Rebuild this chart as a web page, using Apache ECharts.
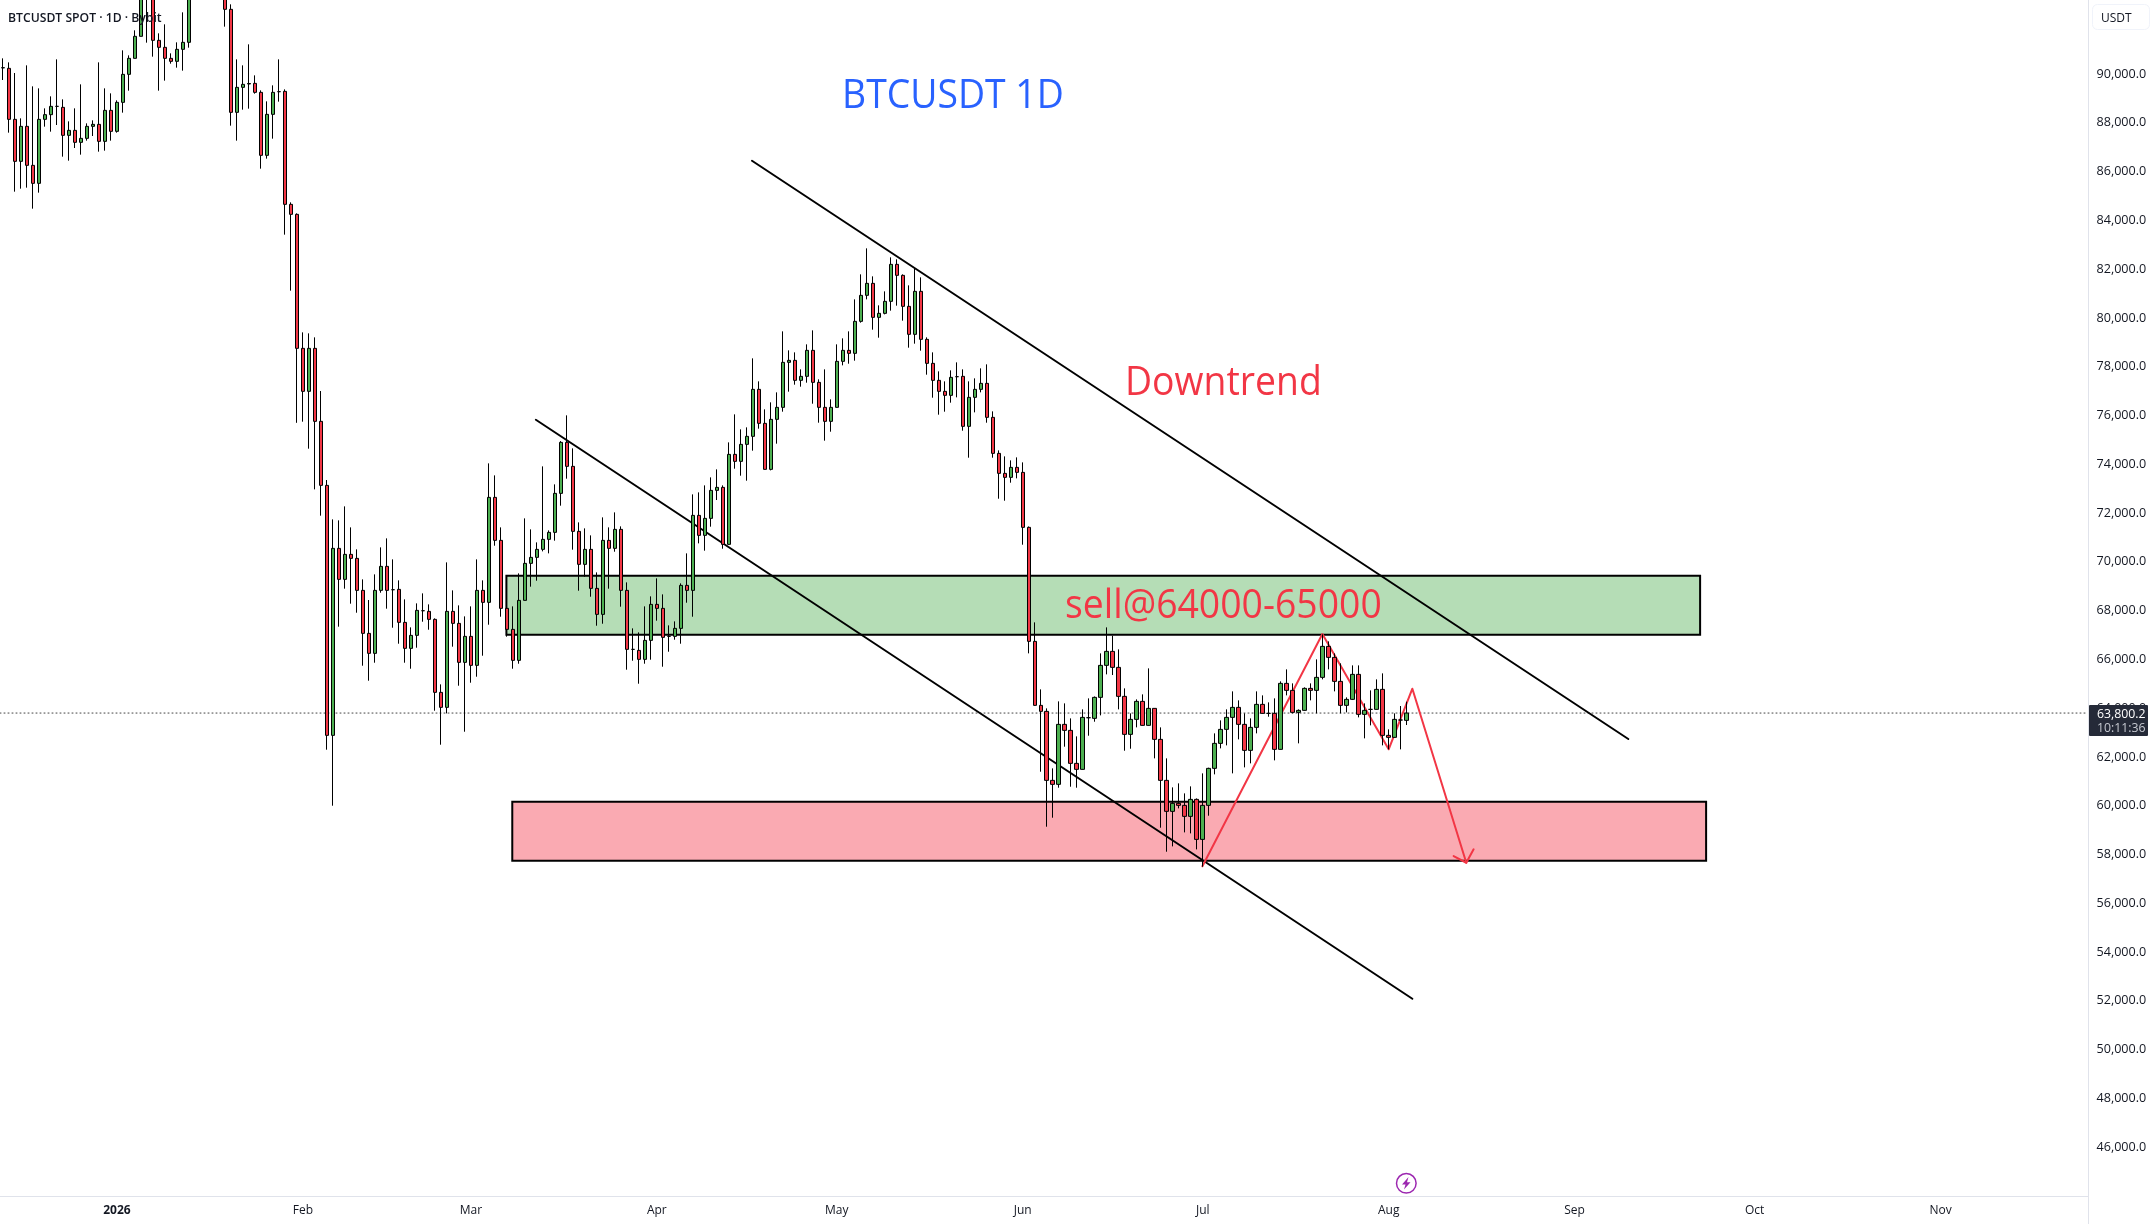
<!DOCTYPE html>
<html><head><meta charset="utf-8">
<style>html,body{margin:0;padding:0;background:#fff}#c{width:2154px;height:1224px}</style>
<script src="https://cdn.jsdelivr.net/npm/echarts@6/dist/echarts.min.js"></script>
</head><body><div id="c"></div>
<script>
var firstDate = '2025-12-13';
var slotCount = 348;
var monthTicks = {'2026-01-01':'2026','2026-02-01':'Feb','2026-03-01':'Mar','2026-04-01':'Apr','2026-05-01':'May','2026-06-01':'Jun','2026-07-01':'Jul','2026-08-01':'Aug','2026-09-01':'Sep','2026-10-01':'Oct','2026-11-01':'Nov'};
var opens = [90250,90232,88141,86419,87854,86255,85517,88141,88333,88674,
88633,87485,87690,87198,87362,87854,87936,87239,88510,87649,
88838,89986,90642,91544,93600,93300,91380,91093,90642,90519,
91011,91298,93800,94500,94100,95000,94400,93900,92651,88428,
89453,89590,89617,89248,86665,88346,89276,89289,84656,84246,
78752,76989,78752,75759,73135,62885,70552,69281,70306,70142,
68830,67067,66247,68830,69814,68857,68871,67518,66452,66985,
67996,67969,67641,64648,64033,67969,67477,65878,66944,65755,
68830,68338,72643,70880,68092,67231,65960,68420,69937,70183,
70511,70921,71208,72807,74898,73914,71249,69896,70511,68912,
67846,70880,70552,71331,68830,66411,66370,66001,66780,68256,
68092,66944,66944,67272,69035,68830,71905,71085,71782,72930,
73053,70716,74406,74119,74816,75144,77071,75677,73791,75841,
76333,78178,78260,77440,77604,78670,77358,76333,75759,76333,
78219,78670,78547,79859,80925,81417,80023,80187,80679,82196,
81745,80474,79326,81089,79121,78137,77440,76989,76825,77591,
77604,75554,76743,77071,77317,75923,74447,73627,73463,73873,
73668,71413,66739,64115,63869,61040,60876,63336,63090,61737,
61491,63609,63582,64443,65755,66329,65673,64484,62926,63541,
64279,63295,63992,62721,61040,59769,60097,60015,59564,60261,
58621,60015,61532,62557,63131,63623,64033,63336,62270,63213,
64156,63787,63787,62311,65017,64730,63828,63910,64812,64730,
65263,66534,66083,65099,64115,64361,65386,63746,63951,63951,
64771,62885,62803,63514,63500];
var closes = [90260,88141,86419,87854,86255,85517,88141,88333,88674,88674,
87485,87690,87198,87362,87854,87936,87239,88510,87649,88838,
89986,90642,91544,93600,93300,91380,91093,90642,90519,91011,
91298,93800,94500,94100,95000,94400,93900,92651,88428,89453,
89576,89610,89248,86665,88346,89248,89276,84656,84246,78752,
76989,78752,75759,73135,62885,70552,69281,70306,70142,68830,
67067,66247,68830,69814,68830,68857,67518,66452,66985,68010,
67996,67641,64648,64033,67969,67477,65878,66944,65755,68830,
68338,72643,70880,68092,67231,65960,68420,69937,70183,70511,
70921,71208,72807,74898,73914,71249,69896,70511,68912,67846,
70880,70552,71331,68830,66411,66411,66001,66780,68256,68092,
66903,66944,67272,69035,68830,71905,71085,71782,72930,73053,
70716,74406,74119,74816,75144,77071,75677,73791,75841,76333,
78178,78260,77440,77604,78670,77358,76333,75759,76333,78219,
78670,78547,79859,80925,81417,80023,80187,80679,82196,81745,
80474,79326,81089,79121,78137,77440,76989,76825,77563,77591,
75554,76743,77071,77317,75923,74447,73627,73463,73873,73668,
71413,66739,64115,63869,61040,60876,63336,63090,61737,61491,
63623,63609,64443,65755,66329,65673,64484,62926,63541,64279,
63295,63992,62721,61040,59769,60097,60015,59564,60261,58621,
60015,61532,62557,63131,63623,64033,63336,62270,63213,64156,
63787,63787,62311,65017,64730,63828,63910,64812,64730,65263,
66534,66083,65099,64115,64361,65386,63746,63910,63951,64771,
62885,62803,63541,63514,63800.2];
var highs = [90642,90478,90041,88182,90355,89494,89412,88592,89084,90601,
88961,88059,88592,89576,87977,88100,90478,89412,89207,88920,
90970,90765,91790,94200,94500,94000,91667,92036,90847,91298,
92528,94500,95000,95200,95600,95700,95100,94300,92856,90601,
90355,91216,89945,89330,88879,89535,90601,89371,84738,84287,
79408,79367,79203,77003,73354,71741,71700,72274,71413,70511,
69281,68434,69486,70593,70962,70101,69240,68461,67313,68297,
68707,68256,67682,64976,69978,68830,68215,67764,68174,70101,
69240,74037,73545,71413,68150,68174,69527,71782,71331,70798,
73914,71290,73176,74950,76005,74652,71618,71372,71085,69568,
71823,71413,72028,71454,69158,67272,67108,68174,68584,69322,
68666,67395,67559,69117,70347,72766,72848,73135,73463,73791,
73135,74898,76046,75431,75513,78342,77399,76251,76538,76948,
79449,78670,78588,77891,78916,79490,77481,77891,76661,78916,
79162,79449,80761,81786,82852,81704,80515,81089,82483,82401,
81786,81335,82032,81663,79203,78588,77809,77399,77850,78178,
77891,77399,77522,77932,78096,76169,74570,74324,74160,74283,
74078,71450,67518,64771,63992,61532,64279,64197,63582,62844,
63951,64402,64480,66247,67313,66971,66411,64812,63787,64361,
64566,65632,64000,63213,61942,60753,60917,60507,60794,60300,
61327,61560,62967,63500,63951,64689,64320,63787,63582,64689,
64525,64238,64402,65099,65591,65017,63950,64853,65017,66001,
67026,66739,66247,65837,64443,65755,65755,64197,64730,65181,
65427,63131,63787,64088,64266];
var lows = [89754,87595,85176,85299,85340,84479,85135,87841,87636,87909,
86611,86447,86966,86693,87267,87458,86816,86857,87267,87595,
88415,89317,90642,91544,91285,90711,89317,89727,90424,90260,
90137,91080,93500,93700,93800,93900,93600,91941,87882,87267,
88538,88579,89194,86119,86529,87349,88866,83413,81117,75700,
75746,74639,72971,71892,62297,60001,67341,68899,68284,67914,
65741,65126,65864,68734,68079,67299,66643,65864,65618,66479,
67545,67217,63897,62502,63787,66521,64921,63035,65044,65290,
66151,67422,70661,67750,66931,65618,65823,68420,68981,69226,
70429,70347,70867,72302,73409,70498,68816,69390,68570,67381,
67463,68899,70415,68161,65577,65946,65003,65823,65987,67587,
65700,66315,66807,66643,68324,67750,70757,70457,71441,72534,
70538,70700,73818,73531,73326,74557,75459,73780,73750,74844,
76156,76976,77263,77181,77345,76483,75704,74967,75335,76320,
78055,78123,78247,79805,80761,79518,79190,80146,80297,80502,
79887,78780,78944,78657,77673,76729,76033,76156,76525,76743,
75376,74269,76128,76948,75704,74269,72588,72506,73244,73422,
70702,66247,64100,61395,59140,59509,60739,62421,60780,60739,
61480,62871,63445,63705,65386,65359,63951,62256,62338,63213,
63280,63280,61942,59099,58115,58334,59892,58908,58867,58211,
57501,59591,61286,62352,62475,61327,62721,61573,61737,62967,
63770,63650,61860,62300,64525,63787,62557,63900,64320,63787,
65181,65591,64689,63787,63828,64334,63623,62762,63295,63940,
62475,62311,62790,62311,63309];

var lastPrice = 63800.2;
var sellZone = [[83.92,69430],[282.92,67011]];
var buyZone  = [[84.9,60164],[283.92,57745]];
var upperTrend = [[124.86,86445],[270.95,62735]];
var lowerTrend = [[88.83,75826],[234.95,52087]];
var zigzag = [[199.95,57516],[219.95,67040],[231,62313],[234.95,64797],[243.94,57663]];
var arrowHead = [[241.83,57938],[243.94,57663],[245.16,58213]];

var dates = [];
(function(){ var t = Date.parse(firstDate+'T00:00:00Z');
  for (var i=0;i<slotCount;i++) dates.push(new Date(t+i*864e5).toISOString().slice(0,10)); })();
var candles = opens.map(function(o,i){ return [o,closes[i],lows[i],highs[i]]; });
var FONT = '"Open Sans","Noto Sans",sans-serif';

function lineSeries(data,color,width,type){
  return {type:'line',xAxisIndex:1,yAxisIndex:0,data:data,symbol:'none',silent:true,z:2,animation:false,
    lineStyle:{color:color,width:width,type:type||'solid',cap:'round',join:'round'}};
}
function zoneSeries(zone,fill){
  return {type:'custom',xAxisIndex:1,yAxisIndex:0,silent:true,z:1,animation:false,
    data:[[zone[0][0],zone[0][1],zone[1][0],zone[1][1]]],
    encode:{x:[0,2],y:[1,3]},
    renderItem:function(p,api){
      var a=api.coord([api.value(0),api.value(1)]), b=api.coord([api.value(2),api.value(3)]);
      return {type:'rect',shape:{x:a[0],y:a[1],width:b[0]-a[0],height:b[1]-a[1]},
        style:{fill:fill,stroke:'#000',lineWidth:2}};
    }};
}
function note(text,x,y,fill){
  return {type:'text',z:30,x:x,y:y,scaleX:0.934,style:{text:text,fill:fill,font:'40px '+FONT,verticalAlign:'middle',align:'left'}};
}
var chart = echarts.init(document.getElementById('c'),null,{renderer:'canvas'});
chart.setOption({
  animation:false,
  backgroundColor:'#ffffff',
  grid:{left:-0.5,top:0,width:2088,height:1196,containLabel:false},
  xAxis:[{type:'category',data:dates,boundaryGap:true,
      axisLine:{show:false},axisTick:{show:false},splitLine:{show:false},
      axisLabel:{show:true,margin:9,color:'#131722',fontFamily:FONT,fontSize:12,
        interval:function(i,v){return !!monthTicks[v];},
        formatter:function(v){var s=monthTicks[v]||''; return s==='2026'?'{b|2026}':s;},
        rich:{b:{fontWeight:700,fontSize:12,color:'#131722',fontFamily:FONT}}}},
    {type:'value',min:-0.5,max:slotCount-0.5,show:false,scale:true}],
  yAxis:[{type:'value',position:'right',min:44000,max:93034,interval:2000,
      axisLine:{show:false},axisTick:{show:false},splitLine:{show:false},
      axisLabel:{margin:9,color:'#131722',fontFamily:FONT,fontSize:12.6,align:'left',
        formatter:function(v){ if(v>90000||v<46000) return '';
          return v.toLocaleString('en-US',{minimumFractionDigits:1,maximumFractionDigits:1});}}}],
  series:[
    zoneSeries(sellZone,'#b5ddb6'),
    zoneSeries(buyZone,'#faaab2'),
    lineSeries([[-0.5,lastPrice],[slotCount-0.5,lastPrice]],'#444',1,[1,3]),
    lineSeries(upperTrend,'#000',2),
    lineSeries(lowerTrend,'#000',2),
    lineSeries(zigzag,'#f23645',2),
    lineSeries(arrowHead,'#f23645',2),
    {type:'candlestick',name:'BTCUSDT',xAxisIndex:0,yAxisIndex:0,data:candles,barWidth:4,z:5,silent:true,animation:false,
      itemStyle:{color:'#4caf50',color0:'#f23645',borderColor:'#000',borderColor0:'#000',borderColorDoji:'#000',borderWidth:1}}
  ],
  graphic:[
    {type:'line',z:20,shape:{x1:2088.5,y1:0,x2:2088.5,y2:1224},style:{stroke:'#e0e3eb',lineWidth:1}},
    {type:'line',z:20,shape:{x1:0,y1:1196.5,x2:2088,y2:1196.5},style:{stroke:'#e0e3eb',lineWidth:1}},
    {type:'text',z:30,left:8,top:13,style:{text:'BTCUSDT SPOT · 1D · Bybit',fill:'#131722',font:'600 12.2px '+FONT}},
    note('BTCUSDT 1D',842,97,'#2962ff'),
    note('Downtrend',1125,384,'#f23645'),
    note('sell@64000-65000',1065,607,'#f23645'),
    {type:'rect',z:30,shape:{x:2092.5,y:4.5,width:57,height:25,r:5},style:{fill:'#fff',stroke:'#f0f3fa',lineWidth:1}},
    {type:'text',z:31,left:2101,top:13,style:{text:'USDT',fill:'#131722',font:'12px '+FONT}},
    {type:'rect',z:30,shape:{x:2089,y:705,width:59,height:31,r:1},style:{fill:'#252a38'}},
    {type:'text',z:31,left:2097,top:708,style:{text:'63,800.2',fill:'#ffffff',font:'12.3px '+FONT}},
    {type:'text',z:31,left:2097,top:722,style:{text:'10:11:36',fill:'#c5c8d0',font:'12.3px '+FONT}},
    {type:'circle',z:30,shape:{cx:1406.3,cy:1183.3,r:9.8},style:{fill:'#fff',stroke:'#9c27b0',lineWidth:1.5}},
    {type:'polygon',z:31,shape:{points:[[1408.5,1177],[1402,1184.5],[1405.5,1184.5],[1404,1189.5],[1410.5,1182.2],[1407,1182.2]]},style:{fill:'#9c27b0'}}
  ]
});
</script></body></html>
